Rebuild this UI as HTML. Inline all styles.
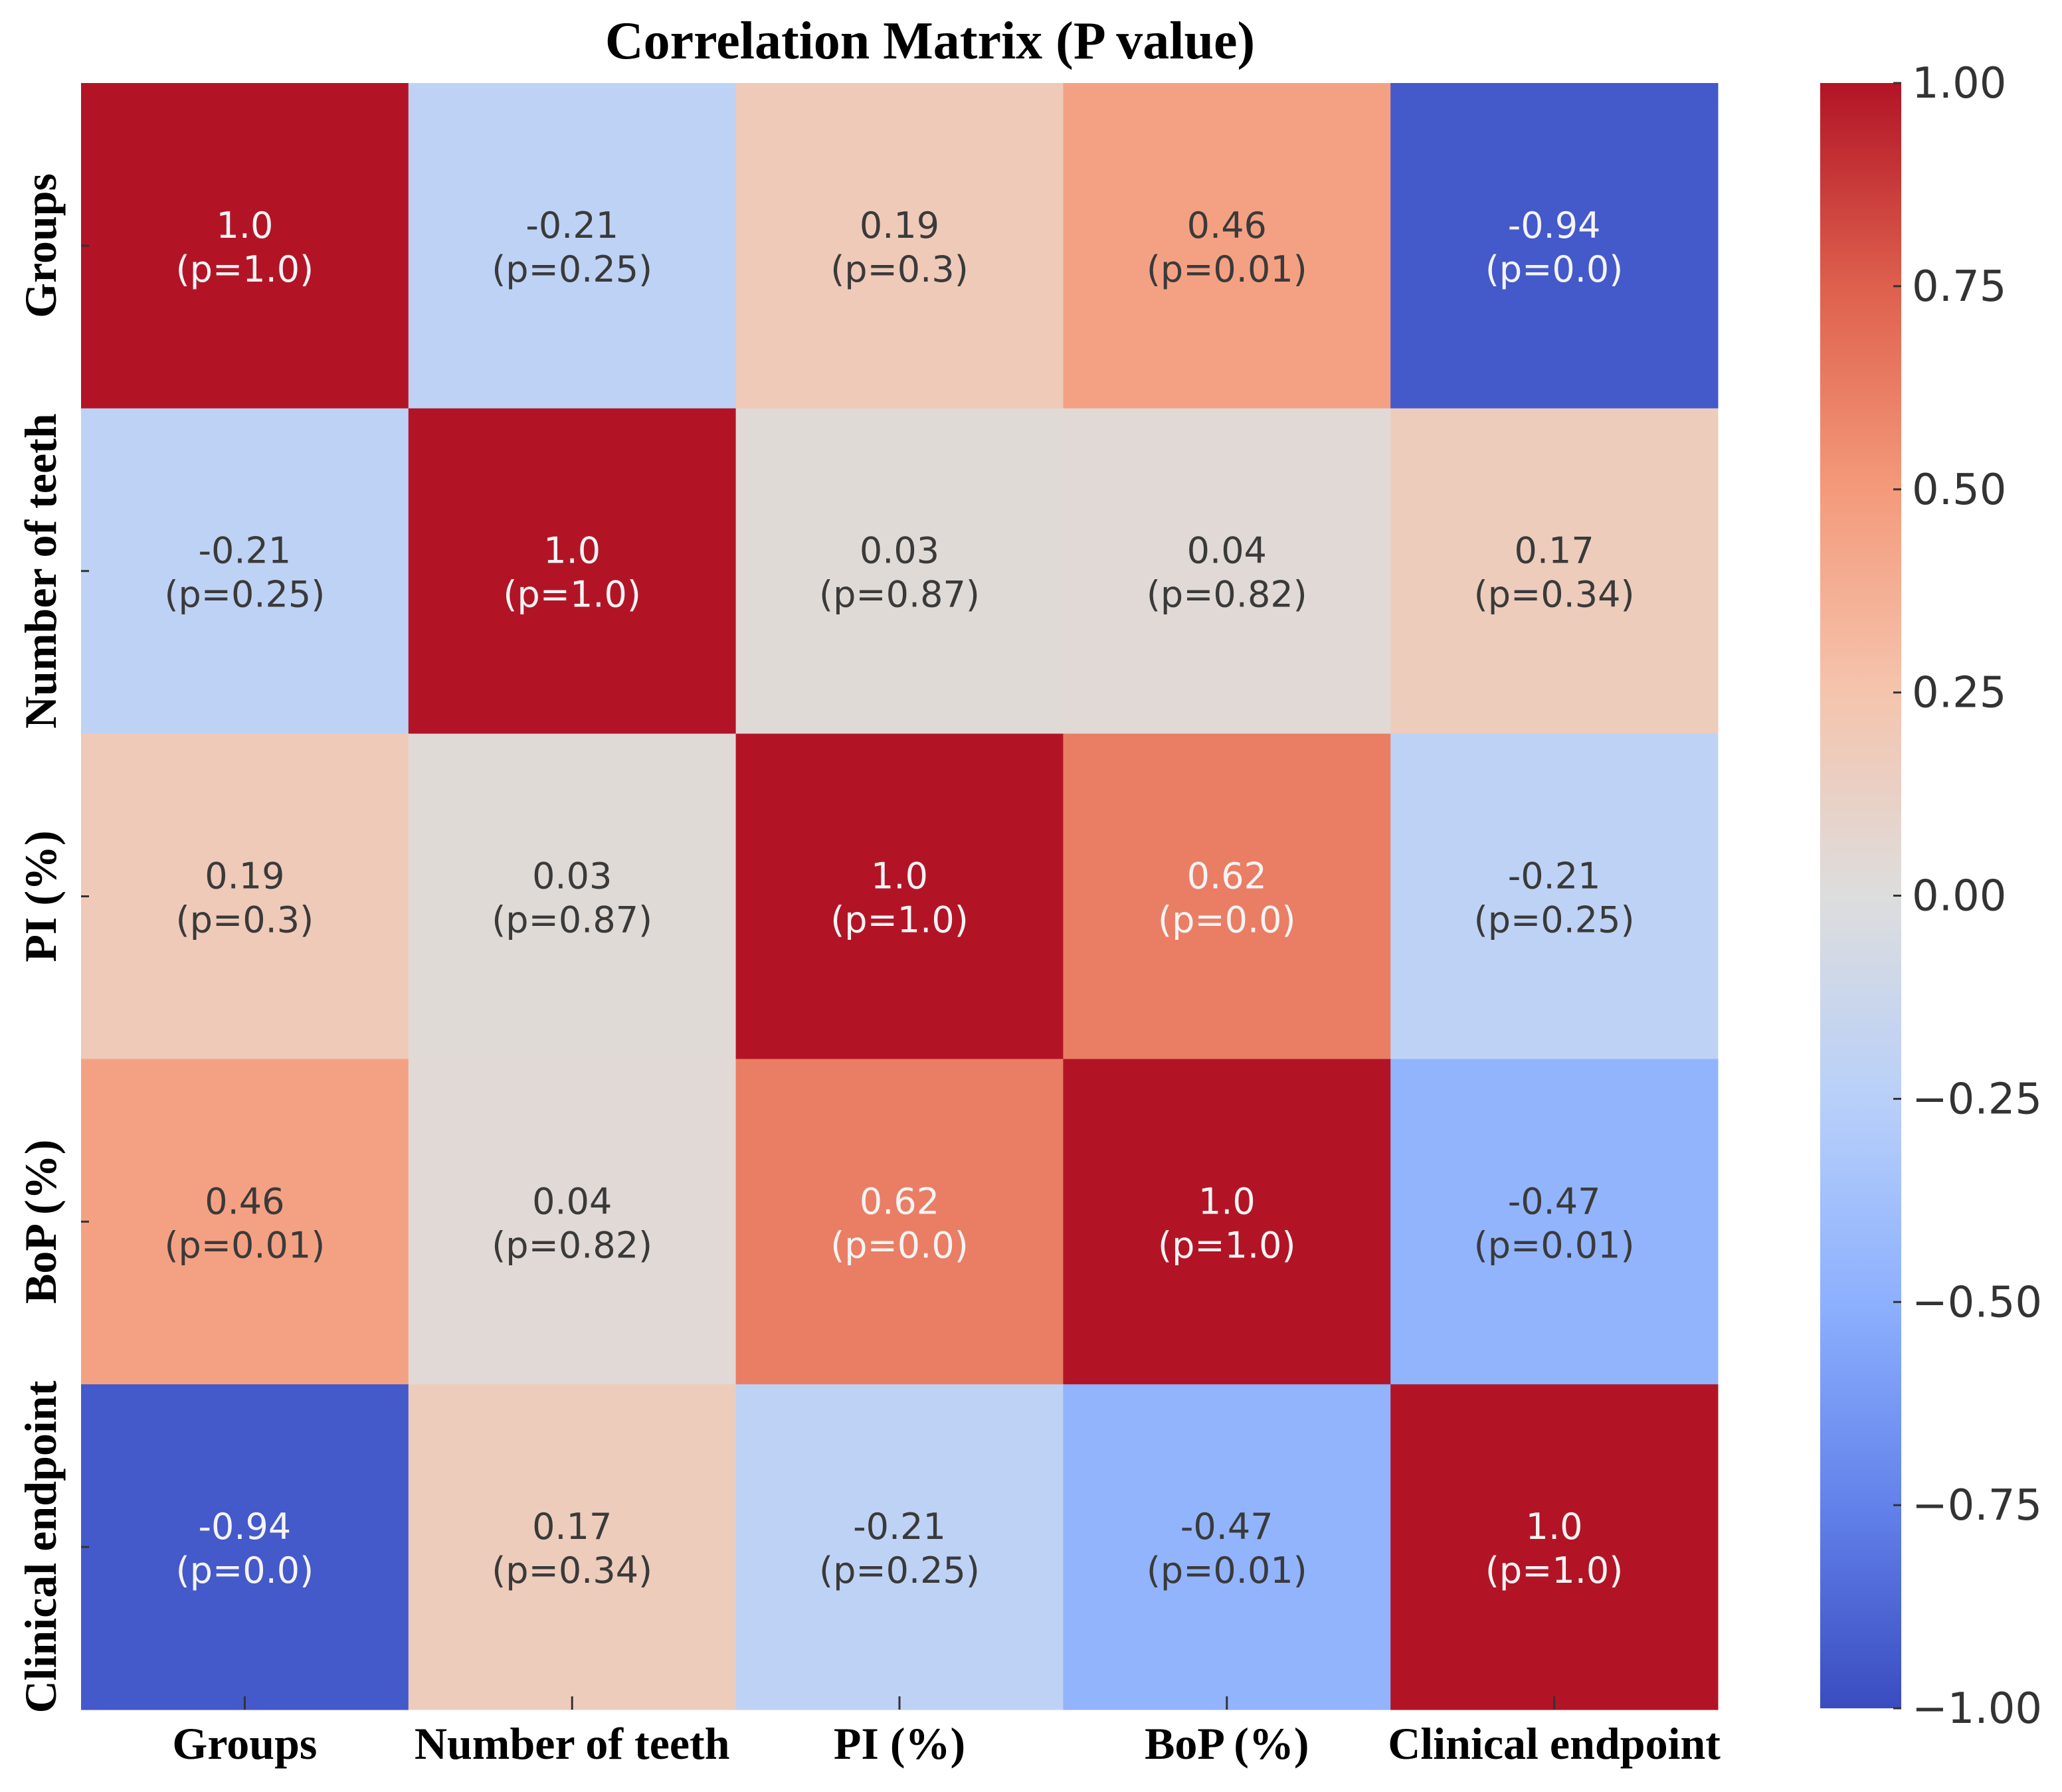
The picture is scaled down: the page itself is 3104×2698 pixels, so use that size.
<!DOCTYPE html>
<html><head><meta charset="utf-8"><style>
html,body{margin:0;padding:0;background:#fff;}
svg{display:block;}
</style></head><body>
<svg id="chart" width="3104" height="2698" viewBox="0 0 3104 2698" xmlns="http://www.w3.org/2000/svg">
<defs>
<linearGradient id="cbg" x1="0" y1="1" x2="0" y2="0">
<stop offset="0" stop-color="rgb(58,76,192)"/><stop offset="0.125" stop-color="rgb(98,130,234)"/><stop offset="0.25" stop-color="rgb(141,176,254)"/><stop offset="0.375" stop-color="rgb(184,208,249)"/><stop offset="0.5" stop-color="rgb(221,221,221)"/><stop offset="0.625" stop-color="rgb(245,196,173)"/><stop offset="0.75" stop-color="rgb(244,154,123)"/><stop offset="0.875" stop-color="rgb(222,96,77)"/><stop offset="1" stop-color="rgb(178,20,38)"/>
</linearGradient>
</defs>
<text x="1400" y="88" text-anchor="middle" font-family="Liberation Serif, serif" font-weight="bold" font-size="80" fill="#000">Correlation Matrix (P value)</text>
<g id="cells"></g>
<g id="labels"></g>
<rect x="2740" y="125" width="122" height="2447" fill="url(#cbg)"/>
<g id="cbticks"></g>
</svg>
<script>
const labels = ["Groups","Number of teeth","PI (%)","BoP (%)","Clinical endpoint"];
const corr = [
 [1.0,-0.21,0.19,0.46,-0.94],
 [-0.21,1.0,0.03,0.04,0.17],
 [0.19,0.03,1.0,0.62,-0.21],
 [0.46,0.04,0.62,1.0,-0.47],
 [-0.94,0.17,-0.21,-0.47,1.0]
];
const pvals = [
 ["1.0","0.25","0.3","0.01","0.0"],
 ["0.25","1.0","0.87","0.82","0.34"],
 ["0.3","0.87","1.0","0.0","0.25"],
 ["0.01","0.82","0.0","1.0","0.01"],
 ["0.0","0.34","0.25","0.01","1.0"]
];
const cbTicks = [1.0,0.75,0.5,0.25,0.0,-0.25,-0.5,-0.75,-1.0];

const NS="http://www.w3.org/2000/svg";
const X0=122,X1=2586,Y0=125,Y1=2574,n=labels.length;
const cw=(X1-X0)/n, ch=(Y1-Y0)/n;
const xPos=i=>X0+i*cw, yPos=i=>Y0+i*ch;
const CB0=125,CB1=2572;
const cbY=v=>CB1-(v+1)/2*(CB1-CB0);
const anchors=[[58,76,192],[98,130,234],[141,176,254],[184,208,249],[221,221,221],[245,196,173],[244,154,123],[222,96,77],[178,20,38]];
function color(v){let t=(v+1)/2*8;let i=Math.min(7,Math.floor(t));let f=t-i;const a=anchors[i],b=anchors[i+1];
 return `rgb(${a.map((c,k)=>Math.round(c+(b[k]-c)*f)).join(",")})`;}
function mk(tag,attrs){const e=document.createElementNS(NS,tag);for(const k in attrs)e.setAttribute(k,attrs[k]);return e;}
const gc=document.getElementById('cells'),gl=document.getElementById('labels'),gt=document.getElementById('cbticks');
for(let r=0;r<n;r++){for(let c=0;c<n;c++){
 const v=corr[r][c];
 const rect=mk('rect',{x:xPos(c),y:yPos(r),width:cw+0.5,height:ch+0.5,fill:color(v)});
 
 
 gc.appendChild(rect);
 const fill=Math.abs(v)>0.5?'#f4f4f4':'#3a3a3a';
 const cx=xPos(c)+cw/2, cy=yPos(r)+ch/2;
 const t1=mk('text',{x:cx,y:cy-12,'text-anchor':'middle','font-family':'DejaVu Sans, sans-serif','font-size':54,fill:fill});
 t1.textContent=(v===1)?'1.0':v.toFixed(2);
 
 
 gc.appendChild(t1);
 const t2=mk('text',{x:cx,y:cy+54,'text-anchor':'middle','font-family':'DejaVu Sans, sans-serif','font-size':54,fill:fill});
 t2.textContent='(p='+pvals[r][c]+')';
 
 
 gc.appendChild(t2);
}}
for(let i=0;i<n;i++){
 const cy=yPos(i)+ch/2, cx=xPos(i)+cw/2;
 const rt=mk('text',{x:0,y:0,transform:`translate(84,${cy}) rotate(-90)`,'text-anchor':'middle','font-family':'Liberation Serif, serif','font-weight':'bold','font-size':68,fill:'#000'});
 rt.textContent=labels[i];
 
 
 gl.appendChild(rt);
 const ct=mk('text',{x:cx,y:2648,'text-anchor':'middle','font-family':'Liberation Serif, serif','font-weight':'bold','font-size':68,fill:'#000'});
 ct.textContent=labels[i];
 
 
 gl.appendChild(ct);
 const lt=mk('line',{x1:X0,x2:X0+12,y1:cy,y2:cy,stroke:'#333','stroke-width':3});
 
 
 gl.appendChild(lt);
 const bt=mk('line',{x1:cx,x2:cx,y1:Y1-20,y2:Y1,stroke:'#333','stroke-width':3});
 
 
 gl.appendChild(bt);
}
cbTicks.forEach(v=>{
 const y=cbY(v);
 const l=mk('line',{x1:2850,x2:2862,y1:y,y2:y,stroke:'#333','stroke-width':3});
 
 
 gt.appendChild(l);
 const t=mk('text',{x:2878,y:y+22,'font-family':'DejaVu Sans, sans-serif','font-size':64,fill:'#333'});
 t.textContent=(v<0?'\u2212':'')+Math.abs(v).toFixed(2);
 
 
 gt.appendChild(t);
});
</script>
</body></html>
